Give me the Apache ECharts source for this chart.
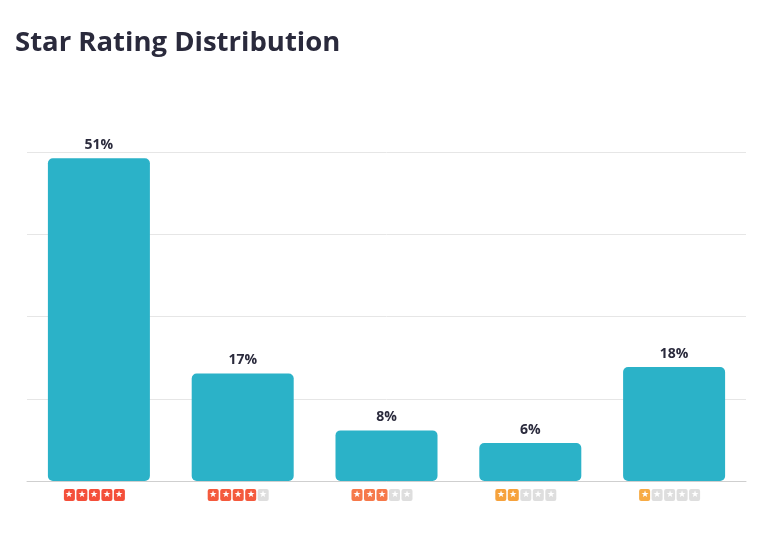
<!DOCTYPE html>
<html>
<head>
<meta charset="utf-8">
<script src="https://cdn.jsdelivr.net/npm/echarts@6/dist/echarts.min.js"></script>
<style>
html,body{margin:0;padding:0;background:#fff;}
#main{width:768px;height:535px;}
</style>
</head>
<body>
<div id="main"></div>
<script>
const categories = ['5', '4', '3', '2', '1'];
const percentages = [51, 17, 8, 6, 18];
const starColors = ['#f44f3a', '#f45a3d', '#f6794a', '#f6a23c', '#f7ab45'];
const titleText = 'Star Rating Distribution';

const rich = { off: { backgroundColor: '#dedede', color: '#fff', width: 11, height: 12, lineHeight: 12, borderRadius: 2, fontSize: 9, align: 'center' },
  g: { width: 1.5, height: 12 } };
categories.forEach((c, i) => {
  rich['on' + c] = { backgroundColor: starColors[i], color: '#fff', width: 11, height: 12, lineHeight: 12, borderRadius: 2, fontSize: 9, align: 'center' };
});

const chart = echarts.init(document.getElementById('main'));
chart.setOption({
  animation: false,
  title: {
    text: titleText, left: 10, top: 24,
    textStyle: { fontFamily: 'Open Sans', fontWeight: 'bold', fontSize: 27.5, color: '#2a2a3c' }
  },
  grid: { left: 27, right: 22, top: 152, bottom: 54, containLabel: false },
  xAxis: {
    type: 'category', data: categories,
    axisLine: { lineStyle: { color: '#cfcfcf' } },
    axisTick: { show: false },
    axisLabel: {
      interval: 0,
      margin: 8,
      padding: [0, 9, 0, 0],
      formatter: function (v) {
        const n = parseInt(v, 10);
        let s = '';
        for (let k = 0; k < 5; k++) {
          s += (k < n ? '{on' + v + '|★}' : '{off|★}');
          if (k < 4) s += '{g| }';
        }
        return s;
      },
      rich: rich
    }
  },
  yAxis: {
    type: 'value', min: 0, max: 52, interval: 13,
    axisLabel: { show: false },
    axisLine: { show: false }, axisTick: { show: false },
    splitLine: { lineStyle: { color: '#e6e6e6' } }
  },
  series: [{
    type: 'bar', data: percentages, barWidth: 102,
    itemStyle: { color: '#2bb2c8', borderRadius: 5 },
    label: {
      show: true, position: 'top', distance: 6,
      formatter: '{c}%',
      fontFamily: 'Open Sans', fontWeight: 'bold', fontSize: 14, color: '#2a2a3c'
    }
  }]
});
</script>
</body>
</html>
